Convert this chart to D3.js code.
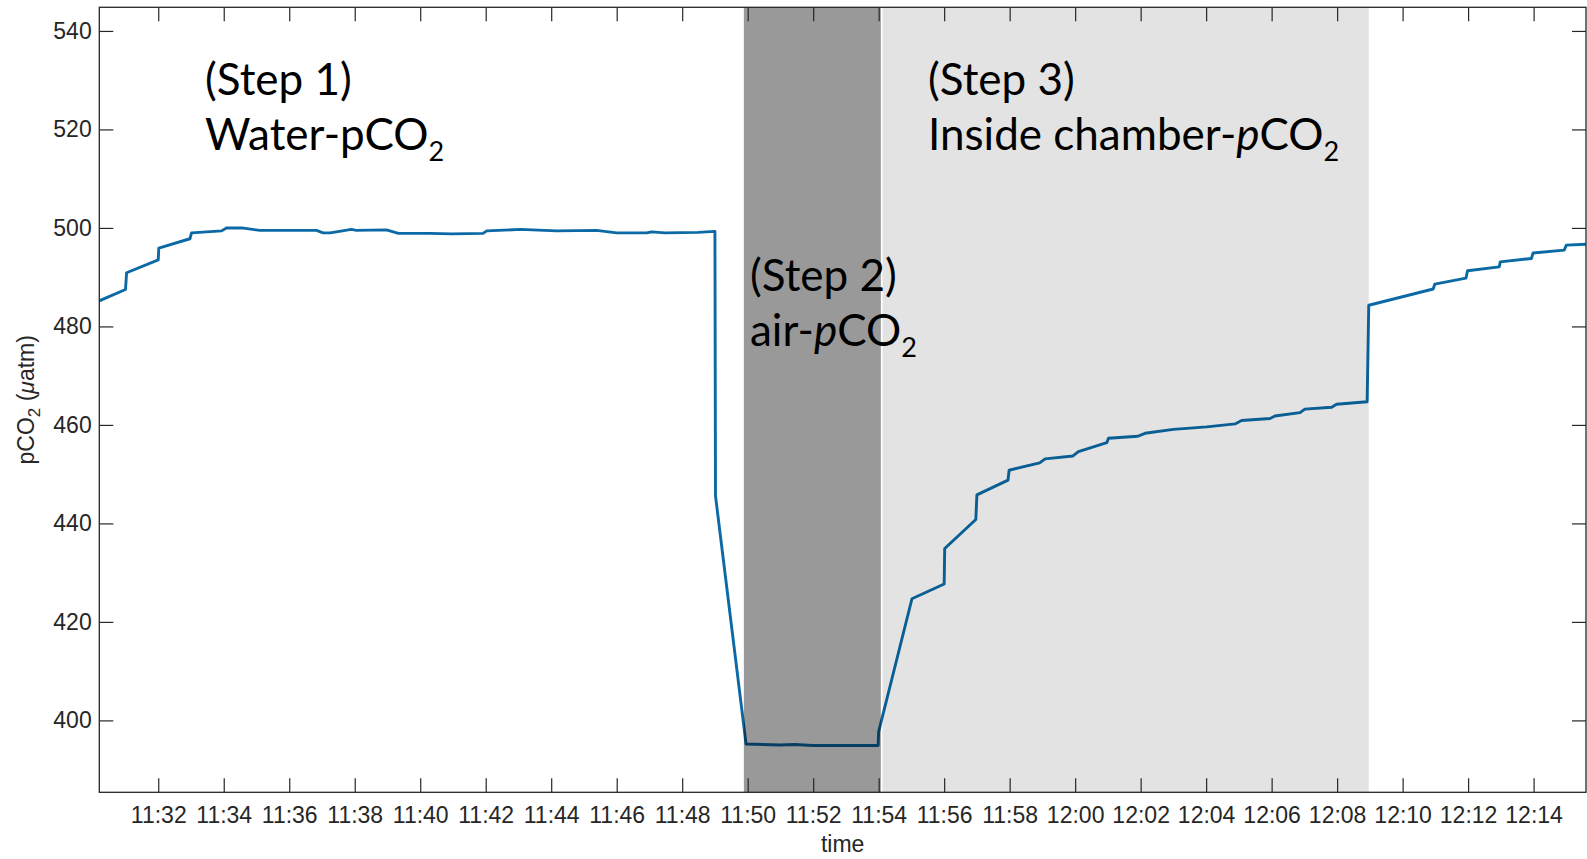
<!DOCTYPE html>
<html>
<head>
<meta charset="utf-8">
<script src="https://cdn.jsdelivr.net/npm/d3@7"></script>
<style>
  body { margin: 0; background: #fff; }
  svg { display: block; }
</style>
</head>
<body>
<div id="chart"></div>
<script>
// pCO2 record, values (one reading per logger step)
var times = [
  "11:30:12","11:31:00","11:31:02","11:32:00","11:32:01","11:32:58","11:33:01","11:33:56",
  "11:34:05","11:34:33","11:35:06","11:36:50","11:37:02","11:37:15","11:37:54","11:38:03",
  "11:38:58","11:39:20","11:40:18","11:40:58","11:41:55","11:42:02","11:43:03","11:44:10",
  "11:45:23","11:46:00","11:46:55","11:47:04","11:47:28","11:48:29","11:49:00","11:49:01",
  "11:49:57","11:50:59","11:51:26","11:51:59","11:53:59","11:54:00","11:55:01","11:56:00",
  "11:56:01","11:56:58","11:57:00","11:57:57","11:57:59","11:58:55","11:59:05","11:59:56",
  "12:00:06","12:00:58","12:01:01","12:01:55","12:02:08","12:03:00","12:04:01","12:04:53",
  "12:05:05","12:05:57","12:06:06","12:06:52","12:07:01","12:07:50","12:07:59","12:08:55",
  "12:08:58","12:10:56","12:10:59","12:11:56","12:11:59","12:12:57","12:12:59","12:13:56",
  "12:13:59","12:14:56","12:15:00","12:15:36"
];
var pco2 = [
  485.2, 487.5, 490.9, 493.5, 495.9, 497.8, 499.0, 499.4,
  500.0, 500.0, 499.5, 499.5, 499.0, 499.0, 499.7, 499.5,
  499.6, 498.9, 498.9, 498.8, 498.9, 499.4, 499.7, 499.4,
  499.5, 499.0, 499.0, 499.2, 499.0, 499.1, 499.3, 445.6,
  395.2, 395.0, 395.1, 394.9, 394.9, 397.7, 424.7, 427.7,
  434.9, 440.8, 445.8, 448.8, 450.8, 452.3, 453.1, 453.7,
  454.6, 456.4, 457.3, 457.7, 458.3, 459.1, 459.6, 460.2,
  460.9, 461.3, 461.8, 462.5, 463.2, 463.6, 464.2, 464.7,
  484.3, 487.6, 488.6, 489.8, 491.3, 492.1, 493.1, 493.8,
  494.9, 495.5, 496.5, 496.7
];

// measurement phases (shaded)
var phaseStart = ["11:49:53", "11:54:07"];
var phaseEnd   = ["11:54:04", "12:08:58"];
var phaseShade = [0.4, 0.11];

var xDomain = ["11:30:12", "12:15:36"];
var yDomain = [385.4, 544.8];
var yTicks = [400, 420, 440, 460, 480, 500, 520, 540];

var W = 1587, H = 859;
var pLeft = 99.3, pRight = 1586, pTop = 7.3, pBottom = 792.3;

var parse = d3.timeParse("%H:%M:%S");
var data = times.map(function(t, i) { return { t: parse(t), v: pco2[i] }; });

var svg = d3.select("#chart").append("svg")
  .attr("width", W)
  .attr("height", H);

var x = d3.scaleTime().domain(xDomain.map(parse)).range([pLeft, pRight]);
var y = d3.scaleLinear().domain(yDomain).range([pBottom, pTop]);

var xTickVals = d3.timeMinute.every(2).range(parse("11:32:00"), parse("12:15:00"));

svg.append("clipPath").attr("id", "clip")
  .append("rect")
  .attr("x", pLeft).attr("y", pTop)
  .attr("width", pRight - pLeft).attr("height", pBottom - pTop);

var plot = svg.append("g").attr("clip-path", "url(#clip)");

var line = d3.line()
  .x(function(d) { return x(d.t); })
  .y(function(d) { return y(d.v); });

plot.append("path")
  .attr("d", line(data))
  .attr("fill", "none")
  .attr("stroke", "#0b6aa6")
  .attr("stroke-width", 2.9)
  .attr("stroke-linejoin", "round");

// shaded patches sit over the line (semi transparent)
plot.selectAll("rect.phase")
  .data(phaseStart)
  .join("rect")
  .attr("class", "phase")
  .attr("x", function(d) { return x(parse(d)); })
  .attr("width", function(d, i) { return x(parse(phaseEnd[i])) - x(parse(d)); })
  .attr("y", pTop)
  .attr("height", pBottom - pTop)
  .attr("fill", "#000")
  .attr("fill-opacity", function(d, i) { return phaseShade[i]; });

var axisColor = "#262626";
var fontAxis = "Liberation Sans, Arial, sans-serif";

function styleAxis(g) {
  g.select(".domain").remove();
  g.selectAll(".tick line").attr("stroke", axisColor).attr("stroke-width", 1.2);
  g.selectAll(".tick text").attr("fill", axisColor);
  g.attr("font-family", fontAxis).attr("font-size", 23);
}

svg.append("g")
  .attr("transform", "translate(0," + pBottom + ")")
  .call(d3.axisBottom(x).tickValues(xTickVals).tickFormat(d3.timeFormat("%H:%M"))
    .tickSizeInner(-14).tickSizeOuter(0).tickPadding(14.5))
  .call(styleAxis);

svg.append("g")
  .attr("transform", "translate(0," + pTop + ")")
  .call(d3.axisTop(x).tickValues(xTickVals).tickFormat("")
    .tickSizeInner(-14).tickSizeOuter(0))
  .call(styleAxis);

svg.append("g")
  .attr("transform", "translate(" + pLeft + ",0)")
  .call(d3.axisLeft(y).tickValues(yTicks)
    .tickSizeInner(-14).tickSizeOuter(0).tickPadding(7.6))
  .call(styleAxis);

svg.append("g")
  .attr("transform", "translate(" + pRight + ",0)")
  .call(d3.axisRight(y).tickValues(yTicks).tickFormat("")
    .tickSizeInner(-14).tickSizeOuter(0))
  .call(styleAxis);

// box
svg.append("rect")
  .attr("x", pLeft).attr("y", pTop)
  .attr("width", pRight - pLeft).attr("height", pBottom - pTop)
  .attr("fill", "none")
  .attr("stroke", axisColor)
  .attr("stroke-width", 1.3);

// axis titles
svg.append("text")
  .attr("x", (pLeft + pRight) / 2)
  .attr("y", 852)
  .attr("text-anchor", "middle")
  .attr("font-family", fontAxis)
  .attr("font-size", 23)
  .attr("fill", axisColor)
  .text("time");

var yl = svg.append("text")
  .attr("transform", "translate(34," + (pTop + pBottom) / 2 + ") rotate(-90)")
  .attr("text-anchor", "middle")
  .attr("font-family", fontAxis)
  .attr("font-size", 23)
  .attr("fill", axisColor);
yl.append("tspan").text("pCO");
yl.append("tspan").attr("font-size", 17).attr("dy", 6).text("2");
yl.append("tspan").attr("dy", -6).text(" (");
yl.append("tspan").attr("font-style", "italic").text("\u03bc");
yl.append("tspan").text("atm)");

// step annotations
var notes = [
  { x: 205, y: 95, head: "(Step 1)", pre: "Water-", italicP: false },
  { x: 750, y: 291, head: "(Step 2)", pre: "air-", italicP: true },
  { x: 928, y: 95, head: "(Step 3)", pre: "Inside chamber-", italicP: true }
];
var fontNote = "Lato, 'Open Sans', sans-serif";

notes.forEach(function(n) {
  svg.append("text")
    .attr("x", n.x).attr("y", n.y)
    .attr("font-family", fontNote).attr("font-size", 44).attr("fill", "#000")
    .text(n.head);
  var t = svg.append("text")
    .attr("x", n.x).attr("y", n.y + 55)
    .attr("font-family", fontNote).attr("font-size", 44).attr("fill", "#000");
  t.append("tspan").text(n.pre);
  t.append("tspan").attr("font-style", n.italicP ? "italic" : "normal").text("p");
  t.append("tspan").text("CO");
  t.append("tspan").attr("font-size", 27).attr("dy", 11).text("2");
});
</script>
</body>
</html>
